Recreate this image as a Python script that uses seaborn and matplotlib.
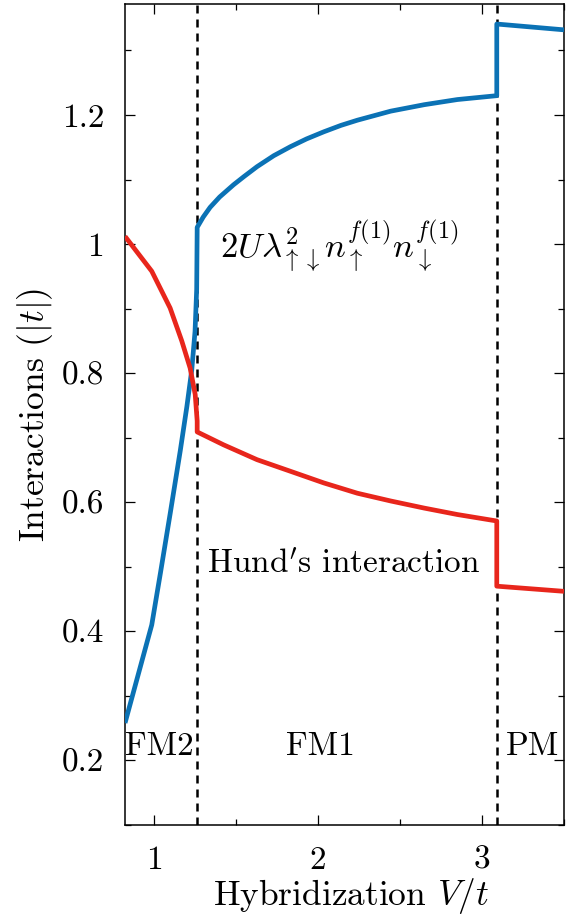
import numpy as np
import pandas as pd
import matplotlib
matplotlib.use("Agg")
import matplotlib.pyplot as plt
from matplotlib.ticker import MultipleLocator, FixedLocator, FuncFormatter
import seaborn as sns

# Phase boundaries in V/t
boundaries = [1.263, 3.09]

# Coulomb term 2U lambda^2 n_up n_down (blue)
coulomb_v = [0.823, 0.986, 1.04, 1.10, 1.16, 1.20, 1.23, 1.25, 1.26, 1.263,
             1.30, 1.342, 1.40, 1.485, 1.55, 1.628, 1.73, 1.832, 1.93, 2.035,
             2.14, 2.24, 2.443, 2.647, 2.85, 3.09,
             3.09, 3.5]
coulomb_e = [0.258, 0.410, 0.492, 0.585, 0.680, 0.748, 0.805, 0.865, 0.930, 1.026,
             1.042, 1.057, 1.073, 1.092, 1.105, 1.120, 1.137, 1.151, 1.163, 1.174,
             1.184, 1.192, 1.206, 1.216, 1.224, 1.230,
             1.341, 1.332]

# Hund's interaction (red)
hund_v = [0.823, 0.986, 1.098, 1.169, 1.22, 1.251, 1.263, 1.263,
          1.424, 1.628, 1.832, 2.035, 2.24, 2.443, 2.647, 2.85, 3.09,
          3.09, 3.5]
hund_e = [1.012, 0.958, 0.901, 0.850, 0.808, 0.767, 0.726, 0.709,
          0.689, 0.666, 0.648, 0.630, 0.614, 0.602, 0.591, 0.581, 0.571,
          0.470, 0.462]

phase_labels = ["FM2", "FM1", "PM"]
phase_x = [0.823, 2.015, 3.31]
phase_ha = ["left", "center", "center"]

x_major = [1, 2, 3]
y_major = [0.2, 0.4, 0.6, 0.8, 1.0, 1.2]

sns.set_style("ticks")
plt.rcParams["font.family"] = ["serif"]
plt.rcParams["font.serif"] = ["cmr10", "DejaVu Serif"]
plt.rcParams["mathtext.fontset"] = "cm"
plt.rcParams["axes.formatter.use_mathtext"] = True
plt.rcParams["axes.unicode_minus"] = False
for key in ["text.color", "axes.labelcolor", "xtick.color", "ytick.color",
            "xtick.labelcolor", "ytick.labelcolor", "axes.edgecolor"]:
    plt.rcParams[key] = "black"

FS = 24
FS_LAB = 25.5

fig = plt.figure(figsize=(5.67, 9.15), dpi=100)
ax = fig.add_axes([0.2205, 0.0984, 0.7742, 0.8972])

df_c = pd.DataFrame({"V": coulomb_v, "E": coulomb_e})
df_h = pd.DataFrame({"V": hund_v, "E": hund_e})
sns.lineplot(data=df_c, x="V", y="E", sort=False, estimator=None,
             color="#0b72b5", lw=3.4, ax=ax, zorder=3,
             solid_joinstyle="round", solid_capstyle="butt")
sns.lineplot(data=df_h, x="V", y="E", sort=False, estimator=None,
             color="#e8261c", lw=3.4, ax=ax, zorder=3,
             solid_joinstyle="round", solid_capstyle="butt")

for b in boundaries:
    ax.axvline(b, color="black", lw=1.8, ls=(0, (3.2, 2.4)), zorder=2)

ax.set_xlim(0.823, 3.5)
ax.set_ylim(0.1, 1.372)

ax.xaxis.set_major_locator(FixedLocator(x_major))
ax.xaxis.set_minor_locator(MultipleLocator(0.5))
ax.yaxis.set_major_locator(FixedLocator(y_major))
ax.yaxis.set_minor_locator(MultipleLocator(0.1))
fmt = FuncFormatter(lambda v, p: f"{v:g}")
ax.xaxis.set_major_formatter(fmt)
ax.yaxis.set_major_formatter(fmt)

ax.tick_params(which="both", direction="in", top=True, right=True,
               width=0.9, color="black")
ax.tick_params(which="major", length=7.5, labelsize=FS, pad=15)
ax.tick_params(which="minor", length=4)
for s in ax.spines.values():
    s.set_linewidth(1.1)
    s.set_color("black")

ax.set_xlabel(r"Hybridization $V/t$", fontsize=FS_LAB)
ax.xaxis.set_label_coords(0.514, -0.062)
ax.set_ylabel(r"Interactions ($|t|$)", fontsize=FS_LAB)
ax.yaxis.set_label_coords(-0.16, 0.5)

ax.text(1.40, 0.997,
        r"$2U\lambda^2_{\uparrow\downarrow}n_{\uparrow}^{f(1)}n_{\downarrow}^{f(1)}$",
        fontsize=FS + 1, ha="left", va="center")
ax.text(1.324, 0.504, r"Hund$'$s interaction", fontsize=FS, ha="left", va="center")
for lab, xp, ha in zip(phase_labels, phase_x, phase_ha):
    ax.text(xp, 0.222, lab, fontsize=FS, ha=ha, va="center")

fig.savefig("out.png", dpi=100)
